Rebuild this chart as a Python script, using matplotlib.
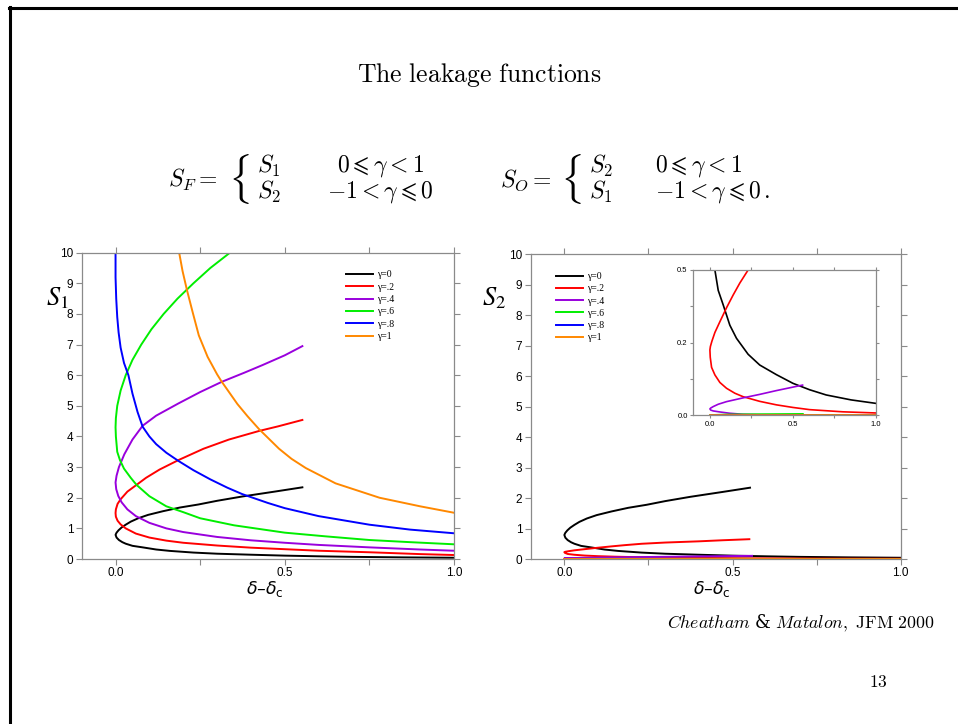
import numpy as np
import matplotlib
matplotlib.use("Agg")
import matplotlib.pyplot as plt
from matplotlib.ticker import MultipleLocator, FormatStrFormatter

# legend labels and colours
labels = ["\u03b3=0", "\u03b3=.2", "\u03b3=.4", "\u03b3=.6", "\u03b3=.8", "\u03b3=1"]
colors = ["black", "#ff0000", "#9900dd", "#00ee00", "#0000ff", "#ff8800"]

# gamma=0 is the same curve in both panels (upper branch, nose, lower branch)
g0_x = [0.552, 0.47, 0.374, 0.3, 0.245, 0.19, 0.14, 0.096, 0.067, 0.045, 0.03, 0.018, 0.009, 0.003, 0.0,
        0.003, 0.01, 0.02, 0.03, 0.05, 0.08, 0.12, 0.16, 0.23, 0.3, 0.4, 0.5, 0.6, 0.7, 0.85, 1.0]
g0_y = [2.34, 2.2, 2.04, 1.9, 1.78, 1.68, 1.56, 1.44, 1.33, 1.22, 1.12, 1.03, 0.94, 0.86, 0.79,
        0.7, 0.62, 0.55, 0.5, 0.43, 0.38, 0.31, 0.265, 0.21, 0.173, 0.14, 0.11, 0.088, 0.07, 0.053, 0.041]

# S1, left panel
s1_x = [
    g0_x,
    [0.552, 0.48, 0.424, 0.335, 0.26, 0.186, 0.13, 0.09, 0.062, 0.035, 0.015, 0.006, 0.001, 0.0,
     0.001, 0.006, 0.015, 0.03, 0.06, 0.1, 0.15, 0.2, 0.3, 0.4, 0.5, 0.6, 0.75, 0.9, 1.0],
    [0.552, 0.5, 0.434, 0.38, 0.315, 0.25, 0.186, 0.12, 0.08, 0.05, 0.026, 0.01, 0.003, 0.0,
     0.002, 0.008, 0.018, 0.035, 0.06, 0.1, 0.15, 0.2, 0.3, 0.4, 0.5, 0.6, 0.75, 0.9, 1.0],
    [0.338, 0.28, 0.23, 0.183, 0.142, 0.106, 0.076, 0.05, 0.03, 0.015, 0.005, 0.001, 0.0,
     0.001, 0.005, 0.013, 0.025, 0.045, 0.062, 0.1, 0.15, 0.2, 0.25, 0.35, 0.5, 0.62, 0.75, 0.87, 1.0],
    [0.0, 0.0, 0.002, 0.005, 0.009, 0.015, 0.025, 0.038, 0.05, 0.065, 0.08, 0.1, 0.12, 0.15, 0.186,
     0.23, 0.28, 0.33, 0.374, 0.45, 0.5, 0.6, 0.75, 0.87, 1.0],
    [0.188, 0.198, 0.211, 0.228, 0.246, 0.272, 0.3, 0.313, 0.36, 0.39, 0.424, 0.483, 0.52, 0.562,
     0.65, 0.78, 0.9, 1.0],
]
s1_y = [
    g0_y,
    [4.54, 4.33, 4.18, 3.9, 3.6, 3.23, 2.92, 2.65, 2.42, 2.2, 1.95, 1.8, 1.62, 1.5,
     1.38, 1.25, 1.13, 1.0, 0.83, 0.7, 0.6, 0.53, 0.44, 0.37, 0.32, 0.27, 0.22, 0.16, 0.13],
    [6.95, 6.65, 6.33, 6.08, 5.79, 5.45, 5.08, 4.68, 4.35, 3.9, 3.42, 3.0, 2.72, 2.5,
     2.28, 2.06, 1.85, 1.62, 1.4, 1.18, 1.0, 0.88, 0.72, 0.61, 0.53, 0.46, 0.38, 0.31, 0.27],
    [10.0, 9.5, 9.0, 8.5, 8.0, 7.5, 7.0, 6.5, 6.0, 5.5, 5.0, 4.6, 4.3,
     4.0, 3.5, 3.23, 2.95, 2.65, 2.42, 2.05, 1.72, 1.53, 1.33, 1.1, 0.86, 0.74, 0.62, 0.55, 0.48],
    [10.0, 9.2, 8.5, 7.9, 7.4, 6.9, 6.4, 6.0, 5.4, 4.8, 4.32, 4.0, 3.75, 3.47, 3.2,
     2.9, 2.6, 2.33, 2.12, 1.83, 1.66, 1.4, 1.12, 0.96, 0.84],
    [10.0, 9.4, 8.78, 8.05, 7.3, 6.6, 6.03, 5.8, 5.06, 4.66, 4.24, 3.6, 3.27, 2.97,
     2.47, 2.0, 1.72, 1.51],
]

# S2, right panel and inset
s2_x = [
    g0_x,
    [0.55, 0.47, 0.4, 0.3, 0.23, 0.18, 0.14, 0.1, 0.06, 0.03, 0.012, 0.003, 0.0,
     0.002, 0.01, 0.03, 0.06, 0.1, 0.15, 0.2, 0.3, 0.4, 0.5, 0.6, 0.8, 1.0],
    [0.558, 0.5, 0.4, 0.3, 0.2, 0.1, 0.05, 0.02, 0.005, 0.0,
     0.005, 0.02, 0.06, 0.12, 0.2, 0.3, 0.5, 0.75, 1.0],
    [0.56, 0.3, 0.1, 0.0, 0.1, 0.5, 1.0],
    [0.56, 0.2, 0.0, 0.3, 1.0],
    [0.0, 0.3, 0.6, 1.0],
]
s2_y = [
    g0_y,
    [0.65, 0.615, 0.58, 0.54, 0.5, 0.455, 0.414, 0.37, 0.322, 0.285, 0.255, 0.237, 0.225,
     0.2, 0.165, 0.139, 0.113, 0.093, 0.076, 0.064, 0.048, 0.036, 0.027, 0.0195, 0.012, 0.008],
    [0.104, 0.097, 0.085, 0.072, 0.06, 0.047, 0.038, 0.03, 0.025, 0.022,
     0.018, 0.015, 0.0115, 0.007, 0.0035, 0.002, 0.0012, 0.0008, 0.0005],
    [0.005, 0.004, 0.003, 0.001, 0.0005, 0.0002, 0.0001],
    [0.0005, 0.0003, 0.0001, 0.00005, 0.0],
    [0.0, 0.0, 0.0, 0.0],
]

W, H = 958, 724
fig = plt.figure(figsize=(W / 100, H / 100), dpi=100)

def px(x0, y0, x1, y1):
    return [x0 / W, 1 - y1 / H, (x1 - x0) / W, (y1 - y0) / H]

spine_col = "#8a8a8a"

def style(ax, fs, ymaj, ymin_, yfmt):
    ax.set_xlim(-0.1, 1.0)
    ax.xaxis.set_major_locator(MultipleLocator(0.5))
    ax.xaxis.set_minor_locator(MultipleLocator(0.25))
    ax.xaxis.set_major_formatter(FormatStrFormatter("%.1f"))
    ax.yaxis.set_major_locator(MultipleLocator(ymaj))
    if ymin_:
        ax.yaxis.set_minor_locator(MultipleLocator(ymin_))
    ax.yaxis.set_major_formatter(FormatStrFormatter(yfmt))
    for s in ax.spines.values():
        s.set_color(spine_col)
        s.set_linewidth(0.9)
    ax.tick_params(which="both", direction="out", color=spine_col, width=0.8,
                   top=True, right=True, labelsize=fs, pad=2)
    ax.tick_params(which="major", length=4)
    ax.tick_params(which="minor", length=4)
    for t in ax.get_xticklabels() + ax.get_yticklabels():
        t.set_fontfamily("Liberation Sans")

leg_kw = dict(loc="upper left", frameon=False, handlelength=2.7, handletextpad=0.4,
              labelspacing=0.34, borderpad=0,
              prop={"family": "Liberation Serif", "size": 7})

# left panel
ax1 = fig.add_axes(px(81.7, 252.7, 454, 559))
for xs, ys, c, lab in zip(s1_x, s1_y, colors, labels):
    ax1.plot(xs, ys, color=c, lw=1.4, label=lab)
ax1.set_ylim(0, 10)
style(ax1, 8.5, 1, None, "%d")
ax1.legend(bbox_to_anchor=(0.698, 0.958), **leg_kw)

# right panel
ax2 = fig.add_axes(px(530.7, 254.3, 900.7, 559))
for xs, ys, c, lab in zip(s2_x, s2_y, colors, labels):
    ax2.plot(xs, ys, color=c, lw=1.4, label=lab)
ax2.set_ylim(0, 10)
style(ax2, 8.5, 1, None, "%d")
ax2.legend(bbox_to_anchor=(0.0565, 0.958), **leg_kw)

# inset
ax3 = fig.add_axes(px(693.3, 270, 876, 415.3))
for xs, ys, c in zip(s2_x, s2_y, colors):
    ax3.plot(xs, ys, color=c, lw=1.2)
ax3.set_ylim(0, 0.5)
style(ax3, 5.5, 0.25, 0.125, "%.1f")
ax3.tick_params(which="both", length=2.5, pad=1.5)

# axis labels
for lab, lx in [(r"$S_1$", 57), (r"$S_2$", 494)]:
    fig.text(lx / W, 1 - 298 / H, lab, fontsize=19, math_fontfamily="stix",
             ha="center", va="center")
for cx in [265, 712]:
    fig.text(cx / W, 1 - 589 / H, r"$\delta$" + "\u2013" + r"$\delta_\mathrm{c}$",
             fontsize=12.5, family="DejaVu Sans", math_fontfamily="dejavusans",
             ha="center", va="center")

# title and equations
cm = dict(math_fontfamily="cm", ha="left", va="center")
fig.text(479 / W, 1 - 75 / H, r"$\mathrm{The\ leakage\ functions}$", fontsize=18.5,
         math_fontfamily="cm", ha="center", va="center")

row1, row2, mid = 166, 192, 180
eq_font = 17
for x0, lhs, a, b in [(168, r"$S_F=$", r"$S_1$", r"$S_2$"),
                      (500, r"$S_O=$", r"$S_2$", r"$S_1$")]:
    fig.text(x0 / W, 1 - mid / H, lhs, fontsize=eq_font, **cm)
    fig.text((x0 + 60) / W, 1 - (mid - 1) / H, r"$\{$", fontsize=30, **cm)
    fig.text((x0 + 89) / W, 1 - row1 / H, a, fontsize=eq_font, **cm)
    fig.text((x0 + 89) / W, 1 - row2 / H, b, fontsize=eq_font, **cm)
fig.text(337 / W, 1 - row1 / H, r"$0\leqslant\gamma<1$", fontsize=eq_font, **cm)
fig.text(327 / W, 1 - row2 / H, r"$-1<\gamma\leqslant0$", fontsize=eq_font, **cm)
fig.text(655 / W, 1 - row1 / H, r"$0\leqslant\gamma<1$", fontsize=eq_font, **cm)
fig.text(655 / W, 1 - row2 / H, r"$-1<\gamma\leqslant0\,.$", fontsize=eq_font, **cm)

fig.text(935 / W, 1 - 623 / H,
         r"$Cheatham\ $" + "&" + r"$\ Matalon\mathrm{,\ JFM\ 2000}$",
         fontsize=12.8, family="DejaVu Serif", math_fontfamily="cm",
         ha="right", va="center")
fig.text(878 / W, 1 - 682 / H, r"$\mathrm{13}$", fontsize=12.5,
         math_fontfamily="cm", ha="center", va="center")

# slide border (top and left)
fig.add_artist(plt.Line2D([9 / W, 1], [1 - 8 / H, 1 - 8 / H], color="black", lw=2.2))
fig.add_artist(plt.Line2D([9.5 / W, 9.5 / W], [0, 1 - 7 / H], color="black", lw=2.2))

fig.savefig("out.png", dpi=100)
